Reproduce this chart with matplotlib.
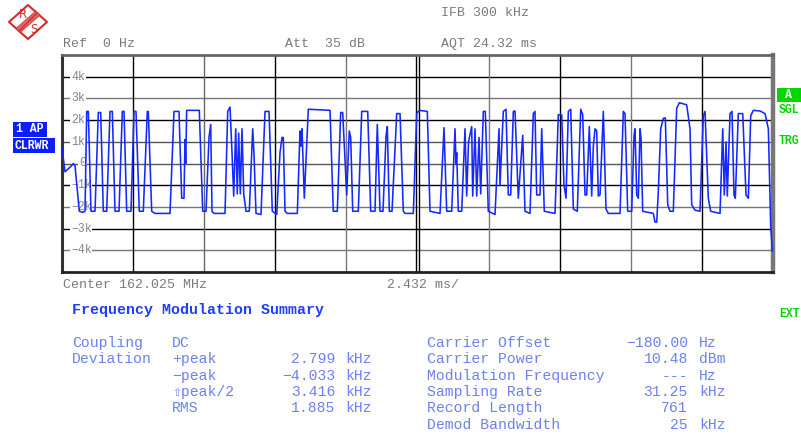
import matplotlib
matplotlib.use("Agg")
import matplotlib.pyplot as plt
from matplotlib.patches import Polygon, Rectangle
from matplotlib.transforms import blended_transform_factory

# FM demodulated trace: time (ms) vs frequency deviation (kHz)
t_ms = [0.000, 0.103, 0.332, 0.387, 0.445, 0.592, 0.708, 0.787, 0.845, 0.900,
        0.992, 1.129, 1.242, 1.324, 1.413, 1.529, 1.642, 1.721, 1.813, 1.950,
        2.063, 2.121, 2.213, 2.360, 2.463, 2.531, 2.644, 2.781, 2.918, 2.952,
        3.068, 3.181, 3.694, 3.831, 4.002, 4.094, 4.173, 4.207, 4.231, 4.265,
        4.696, 4.813, 4.926, 5.028, 5.086, 5.131, 5.199, 5.576, 5.668, 5.747,
        5.815, 5.873, 5.942, 5.996, 6.044, 6.099, 6.157, 6.215, 6.294, 6.407,
        6.523, 6.568, 6.636, 6.807, 6.944, 7.081, 7.194, 7.344, 7.457, 7.525,
        7.570, 7.628, 7.707, 8.049, 8.141, 8.175, 8.209, 8.288, 8.425, 9.167,
        9.280, 9.417, 9.533, 9.602, 9.738, 9.827, 9.875, 9.944, 10.135, 10.252,
        10.457, 10.559, 10.706, 10.785, 10.878, 10.980, 11.083, 11.127, 11.196, 11.288,
        11.449, 11.562, 11.675, 11.733, 12.017, 12.133, 12.222, 12.495, 12.588, 12.930,
        13.067, 13.159, 13.330, 13.443, 13.477, 13.501, 13.556, 13.672, 13.785, 13.843,
        13.905, 14.014, 14.048, 14.127, 14.185, 14.264, 14.322, 14.411, 14.479, 14.582,
        14.811, 14.948, 14.982, 15.095, 15.187, 15.266, 15.348, 15.437, 15.495, 15.608,
        15.759, 15.837, 16.008, 16.121, 16.179, 16.237, 16.350, 16.409, 16.497, 16.864,
        16.977, 17.093, 17.171, 17.240, 17.319, 17.401, 17.490, 17.626, 17.743, 17.811,
        17.890, 17.948, 18.037, 18.119, 18.174, 18.232, 18.290, 18.345, 18.403, 18.516,
        18.608, 18.687, 19.087, 19.200, 19.258, 19.350, 19.487, 19.566, 19.600, 19.658,
        19.713, 19.771, 19.805, 19.863, 20.226, 20.284, 20.342, 20.397, 20.479, 20.568,
        20.637, 20.719, 20.797, 20.910, 21.026, 21.115, 21.252, 21.368, 21.481, 21.539,
        21.652, 21.823, 21.936, 21.994, 22.107, 22.189, 22.508, 22.600, 22.655, 22.713,
        22.757, 22.850, 22.918, 22.986, 23.031, 23.134, 23.284, 23.397, 23.476, 23.558,
        23.647, 23.876, 24.047, 24.161, 24.242, 24.297]
f_khz = [0.70, -0.38, -0.10, 0.00, -0.10, -2.20, -2.25, -2.20, 2.40, 2.40,
         -2.20, -2.20, 2.35, 2.35, -2.20, -2.20, 2.40, 2.40, -2.20, -2.20,
         2.40, 2.40, -2.20, -2.20, 2.40, 2.40, -2.20, -2.20, 2.40, 2.40,
         -2.20, -2.30, -2.30, 2.40, 2.40, -1.60, -1.60, 1.10, 0.00, 2.45,
         2.45, -2.20, -2.20, 1.20, 1.80, -2.20, -2.30, -2.30, 2.40, 2.60,
         0.50, -1.50, 1.60, -1.40, 1.40, -1.40, 1.60, -1.40, -2.20, -2.20,
         1.60, 0.40, -2.30, -2.35, 2.40, 2.40, -2.20, -2.35, 0.50, 1.20,
         1.20, -2.20, -2.30, -2.30, 1.50, 0.80, 1.60, -1.60, 2.50, 2.45,
         -2.20, -2.20, 2.35, 2.35, -1.45, 1.50, 1.20, -2.20, -2.20, 2.40,
         2.40, -2.20, -2.20, 1.80, -2.20, -2.20, 1.25, 1.70, -2.20, -2.20,
         2.30, 2.30, -2.20, -2.30, -2.30, 2.30, 2.45, 2.40, -2.20, -2.30,
         1.65, -2.20, -2.20, 1.60, 0.00, 0.50, -2.20, -2.20, 1.60, -1.50,
         1.00, 1.70, -1.50, 1.60, -1.50, 1.20, -1.40, 2.40, 2.40, -2.20,
         -2.35, 1.60, -1.00, 2.40, 2.50, -1.45, -1.45, 2.40, 2.42, -1.60,
         1.30, -2.20, -2.30, 2.30, 2.40, -1.45, -1.45, 1.60, -2.20, -2.30,
         2.25, 2.24, -1.00, -1.60, 2.40, 2.50, -2.10, -2.20, 2.50, 2.24,
         -1.45, -1.45, 1.70, -1.50, 0.80, 1.60, 1.50, -1.50, -1.45, 2.40,
         -2.10, -2.30, -2.30, 2.40, 2.30, -2.20, -2.20, 1.30, 1.60, -1.45,
         -1.60, 1.60, 1.16, -2.20, -2.30, -2.70, -2.70, -1.30, 1.60, 2.08,
         2.10, -1.90, -2.20, -2.20, 2.55, 2.80, 2.75, 2.70, 1.60, -1.90,
         -2.15, -2.20, 2.20, 2.40, -1.60, -2.20, -2.30, 1.60, -1.45, 1.00,
         -1.50, 2.30, 2.40, -1.45, -1.60, 2.30, 2.30, -1.45, -1.60, 2.20,
         2.45, 2.42, 2.30, 1.60, -2.90, -4.03]

div_ms = 2.432
n_div = 10
y_ticks = [4, 3, 2, 1, 0, -1, -2, -3, -4]
y_tick_labels = ["4k", "3k", "2k", "1k", "0", "\u22121k", "\u22122k", "\u22123k", "\u22124k"]

left_rows = [("Coupling", "DC", "", ""),
             ("Deviation", "+peak", "2.799", "kHz"),
             ("", "\u2212peak", "\u22124.033", "kHz"),
             ("", "\u21e7peak/2", "3.416", "kHz"),
             ("", "RMS", "1.885", "kHz")]
right_rows = [("Carrier Offset", "\u2212180.00", "Hz"),
              ("Carrier Power", "10.48", "dBm"),
              ("Modulation Frequency", "---", "Hz"),
              ("Sampling Rate", "31.25", "kHz"),
              ("Record Length", "761", ""),
              ("Demod Bandwidth", "25", "kHz")]

W, H = 801, 434
MONO = ["Liberation Mono", "DejaVu Sans Mono"]
GRAY_TXT = "#7a7a7a"
TABLE_BLUE = "#6a82f0"
TITLE_BLUE = "#1f3cff"
TRACE_BLUE = "#1428ff"
GREEN = "#00d800"


def fx(px):
    return px / W


def fy(py):
    return 1 - py / H


def ftext(x, y, s, **kw):
    kw.setdefault("family", MONO)
    kw.setdefault("va", "center")
    fig.text(fx(x), fy(y), s, **kw)


fig = plt.figure(figsize=(W / 100, H / 100), dpi=100)
fig.patch.set_facecolor("white")

# main trace window
x0, x1, y0, y1 = 62, 773, 55, 272
ax = fig.add_axes([fx(x0), fy(y1), fx(x1 - x0), (y1 - y0) / H])
ax.set_xlim(0, n_div * div_ms)
ax.set_ylim(-5, 5)
ax.set_xticks([])
ax.set_yticks([])

h_colors = ["black", "#777777", "black", "#555555", "#555555",
            "black", "#777777", "black", "#777777"]
for v, c in zip(y_ticks, h_colors):
    ax.axhline(v, color=c, lw=1.0, zorder=1)

v_colors = ["black", "#666666", "black", "#777777", None,
            "#777777", "black", "#777777", "black"]
for i, c in enumerate(v_colors, start=1):
    if c is None:
        # centre division drawn as a double line
        ax.axvline(i * div_ms - 0.035, color="black", lw=1.0, zorder=1)
        ax.axvline(i * div_ms + 0.035, color="black", lw=1.0, zorder=1)
    else:
        ax.axvline(i * div_ms, color=c, lw=1.0, zorder=1)

lbl_tr = blended_transform_factory(ax.transAxes, ax.transData)
for v, s in zip(y_ticks, y_tick_labels):
    xpos = (79 - x0) / (x1 - x0) if s == "0" else (71 - x0) / (x1 - x0)
    ax.text(xpos, v, s, transform=lbl_tr, family=MONO, fontsize=8.3,
            color="#858585", va="center", ha="left", zorder=2,
            bbox=dict(facecolor="white", edgecolor="none", pad=0.6))

ax.plot(t_ms, f_khz, color=TRACE_BLUE, lw=1.15, zorder=4, clip_on=False,
        solid_joinstyle="round")

ax.spines["left"].set_color("#333333")
ax.spines["left"].set_linewidth(2.2)
ax.spines["top"].set_color("#666666")
ax.spines["top"].set_linewidth(2.0)
ax.spines["right"].set_color("#777777")
ax.spines["right"].set_linewidth(3.2)
ax.spines["bottom"].set_color("#222222")
ax.spines["bottom"].set_linewidth(2.0)

# header settings
ftext(441, 13, "IFB 300 kHz", fontsize=9.5, color=GRAY_TXT)
ftext(63, 44, "Ref  0 Hz", fontsize=9.5, color=GRAY_TXT)
ftext(285, 44, "Att  35 dB", fontsize=9.5, color=GRAY_TXT)
ftext(441, 44, "AQT 24.32 ms", fontsize=9.5, color=GRAY_TXT)
ftext(63, 285, "Center 162.025 MHz", fontsize=9.5, color=GRAY_TXT)
ftext(387, 285, "2.432 ms/", fontsize=9.5, color=GRAY_TXT)

# trace status boxes
fig.add_artist(Rectangle((fx(13), fy(136.5)), fx(34), (136.5 - 121.5) / H,
                         transform=fig.transFigure, color="#0a1eff", lw=0))
fig.add_artist(Rectangle((fx(13), fy(153)), fx(42), (153 - 138.5) / H,
                         transform=fig.transFigure, color="#0a1eff", lw=0))
ftext(16, 129.5, "1 AP", fontsize=8.3, color="white", weight="bold")
ftext(14.5, 146, "CLRWR", fontsize=8.3, color="white", weight="bold")

fig.add_artist(Rectangle((fx(777), fy(101.5)), fx(24), (101.5 - 87.5) / H,
                         transform=fig.transFigure, color=GREEN, lw=0))
ftext(785, 94.5, "A", fontsize=8.3, color="white", weight="bold")
ftext(779, 110, "SGL", fontsize=8.3, color=GREEN, weight="bold")
ftext(779, 141, "TRG", fontsize=8.3, color=GREEN, weight="bold")
ftext(779, 314, "EXT", fontsize=8.3, color=GREEN, weight="bold")

# summary table
ftext(72, 310, "Frequency Modulation Summary", fontsize=10.8,
      color=TITLE_BLUE, weight="bold")
row_y = [343, 359.3, 375.6, 392, 408.3, 424.6]
for (a, b, val, unit), yy in zip(left_rows, row_y):
    ftext(72, yy, a, fontsize=10.6, color=TABLE_BLUE)
    ftext(172, yy, b, fontsize=10.6, color=TABLE_BLUE)
    ftext(335, yy, val, fontsize=10.6, color=TABLE_BLUE, ha="right")
    ftext(345, yy, unit, fontsize=10.6, color=TABLE_BLUE)
for (a, val, unit), yy in zip(right_rows, row_y):
    ftext(427, yy, a, fontsize=10.6, color=TABLE_BLUE)
    ftext(688, yy, val, fontsize=10.6, color=TABLE_BLUE, ha="right")
    ftext(699, yy, unit, fontsize=10.6, color=TABLE_BLUE)

# maker logo
lax = fig.add_axes([fx(5), fy(42), fx(46), 40 / H])
lax.set_xlim(5, 51)
lax.set_ylim(42, 2)
lax.axis("off")
lax.add_patch(Polygon([(9, 22), (28, 5), (47, 22), (28, 39)], closed=True,
                      fill=False, edgecolor="#d42a2a", lw=1.5, joinstyle="round"))
lax.add_patch(Polygon([(16, 28.5), (36, 11), (40, 15), (20, 32.5)],
                      closed=True, facecolor="#e06a6a", edgecolor="#d42a2a",
                      lw=0.6, hatch="////"))
lax.text(22.5, 14.5, "R", fontsize=8.5, color="#d42a2a", ha="center",
         va="center", family="DejaVu Sans")
lax.text(33.5, 29.5, "S", fontsize=8.5, color="#d42a2a", ha="center",
         va="center", family="DejaVu Sans")

fig.savefig("out.png", dpi=100, facecolor="white")
